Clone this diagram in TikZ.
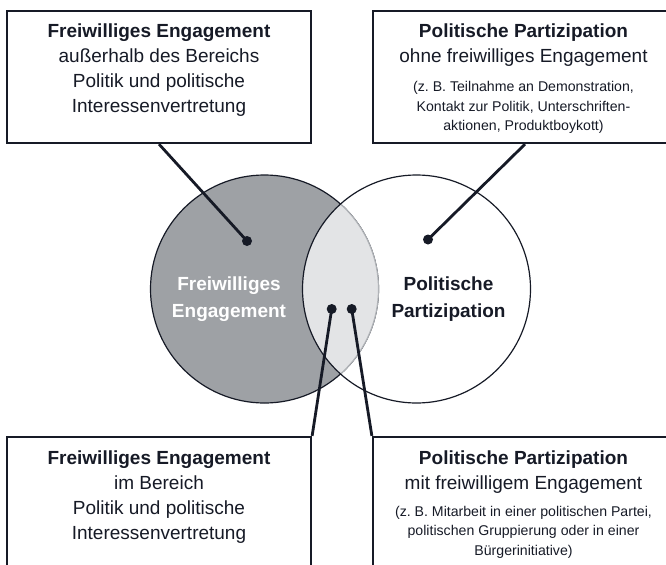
\documentclass[tikz,border=0pt]{standalone}
\usepackage{fontspec}
\setmainfont{Liberation Sans}
\definecolor{ink}{RGB}{22,26,38}
\definecolor{fegray}{RGB}{158,161,165}
\definecolor{cutgray}{RGB}{227,228,230}
\definecolor{arcgray}{RGB}{176,179,183}
\begin{document}
\begin{tikzpicture}[x=0.75pt,y=-0.75pt]
        \tikzstyle{box}=[rectangle, draw=ink, line width=1.7pt, inner sep=0pt, minimum width=228pt, minimum height=99pt]
        \tikzstyle{txt}=[text=ink, align=center, font=\fontsize{14.25pt}{18.75pt}\selectfont]
        \tikzstyle{detail}=[text=ink, align=center, font=\fontsize{10.6pt}{14.6pt}\selectfont]
        \tikzstyle{circ}=[circle, draw=ink, line width=0.9pt, inner sep=0pt, minimum size=171pt]
        \tikzstyle{circtxt}=[align=center, font=\bfseries\fontsize{14.25pt}{20.6pt}\selectfont]
        \tikzstyle{dot}=[circle, fill=ink, inner sep=0pt, minimum size=7.5pt]
        \tikzstyle{conn}=[draw=ink, line width=2.1pt]

        \useasboundingbox (0,0) rectangle (666,564);
        \clip (0,0) rectangle (666,564);

        % the two circles and their overlap
        \node[circ, fill=fegray] (fe) at (264.5,289) {};
        \begin{scope}
            \clip (416.5,289) circle (114);
            \fill[cutgray, draw=arcgray, line width=0.9pt] (264.5,289) circle (114);
        \end{scope}
        \node[circ] (pp) at (416.5,289) {};
        \node[circtxt, text=white] (fetext) at (229,299) {Freiwilliges\\Engagement};
        \node[circtxt, text=ink] (pptext) at (448.5,299) {Politische\\Partizipation};

        % boxes
        \node[box] (tl) at (159,77) {};
        \node[box] (tr) at (525,77) {};
        \node[box, minimum height=105pt] (bl) at (159,507) {};
        \node[box, minimum height=105pt] (br) at (525,507) {};

        \node[txt] (tltext) at (159,70.5) {\textbf{Freiwilliges Engagement}\\au\ss erhalb des Bereichs\\Politik und politische\\Interessenvertretung};
        \node[txt] (trhead) at (523.5,45.5) {\textbf{Politische Partizipation}\\ohne freiwilliges Engagement};
        \node[detail] (trdetail) at (523.5,107.8) {(z.~B. Teilnahme an Demonstration,\\Kontakt zur Politik, Unterschriften-\\aktionen, Produktboykott)};
        \node[txt] (bltext) at (159,496.7) {\textbf{Freiwilliges Engagement}\\im Bereich\\Politik und politische\\Interessenvertretung};
        \node[txt] (brhead) at (523.5,471.8) {\textbf{Politische Partizipation}\\mit freiwilligem Engagement};
        \node[detail] (brdetail) at (523.5,531.9) {(z.~B. Mitarbeit in einer politischen Partei,\\politischen Gruppierung oder in einer\\Bürgerinitiative)};

        % dots and connectors
        \node[dot] (d1) at (247,241) {};
        \node[dot] (d2) at (428,239.5) {};
        \node[dot] (d3) at (331.7,309) {};
        \node[dot] (d4) at (351.7,309) {};
        \draw[conn] (d1.center) -- (tl.south);
        \draw[conn] (d2.center) -- (tr.south);
        \draw[conn] (d3.center) -- (bl.north east);
        \draw[conn] (d4.center) -- (br.north west);
    \end{tikzpicture}
\end{document}
